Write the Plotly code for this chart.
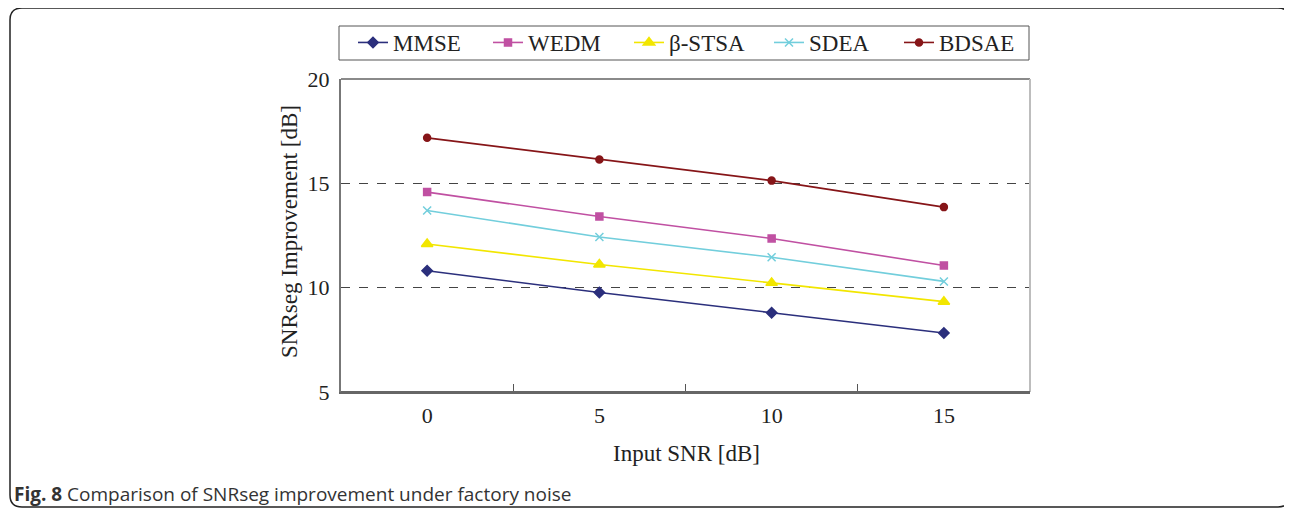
import plotly.graph_objects as go

input_snr = [0, 5, 10, 15]
x_ticklabels = ["0", "5", "10", "15"]
mmse = [10.81, 9.77, 8.80, 7.83]
wedm = [14.58, 13.41, 12.36, 11.06]
beta_stsa = [12.09, 11.11, 10.23, 9.33]
sdea = [13.70, 12.43, 11.46, 10.30]
bdsae = [17.18, 16.14, 15.13, 13.86]
series_names = ["MMSE", "WEDM", "β-STSA", "SDEA", "BDSAE"]

OFF = 8  # page body margin
W, H = 1292 - OFF, 509 - OFF
PL, PR, PT, PB = 341 - OFF, 1030 - OFF, 79 - OFF, 392 - OFF  # plot area in figure pixels


def px_x(x):
    return (x - OFF - PL) / (PR - PL)


def px_y(y):
    return (PB - (y - OFF)) / (PB - PT)


SERIF = "Liberation Serif, Times New Roman, serif"

fig = go.Figure()
styles = [
    (mmse, "#2B2F7C", "diamond", 8),
    (wedm, "#C050A2", "square", 7),
    (beta_stsa, "#F2E600", "triangle-up", 10),
    (sdea, "#72CEDC", "x-thin-open", 8),
    (bdsae, "#861518", "circle", 7),
]
legend_item_x = [353, 488, 629, 769, 899]  # pixel x of each legend entry
legend_ids = ["legend", "legend2", "legend3", "legend4", "legend5"]

for name, (vals, color, sym, size), lid in zip(series_names, styles, legend_ids):
    fig.add_trace(go.Scatter(
        x=input_snr, y=vals, name=name, mode="lines+markers",
        line=dict(color=color, width=1.6),
        marker=dict(symbol=sym, size=size, color=color,
                    line=dict(color=color, width=1.5)),
        legend=lid,
    ))

legend_layout = {}
for lid, lx in zip(legend_ids, legend_item_x):
    legend_layout[lid] = dict(
        orientation="h", x=px_x(lx), y=px_y(21), xanchor="left", yanchor="top",
        borderwidth=0, bgcolor="rgba(0,0,0,0)",
        font=dict(family=SERIF, size=23, color="#222"),
        itemsizing="trace",
    )

fig.update_layout(
    width=W, height=H,
    margin=dict(l=PL, r=W - PR, t=PT, b=H - PB, pad=0),
    paper_bgcolor="white", plot_bgcolor="white",
    font=dict(family=SERIF, size=22, color="#222"),
    showlegend=True,
    xaxis=dict(
        range=[-2.5, 17.5], tickmode="array", tickvals=input_snr, ticktext=x_ticklabels,
        ticks="", showgrid=False, zeroline=False,
        showline=True, linecolor="#666", linewidth=2,
        ticklabelstandoff=3,
        minor=dict(tickmode="array", tickvals=[2.5, 7.5, 12.5], ticks="inside",
                   ticklen=8, tickcolor="#555", tickwidth=1, showgrid=False),
        tickfont=dict(size=22),
    ),
    yaxis=dict(
        range=[5, 20], tickmode="array", tickvals=[5, 10, 15, 20],
        ticks="", showgrid=True, gridcolor="#444", griddash="dash", gridwidth=1,
        zeroline=False, showline=True, linecolor="#777", linewidth=2,
        ticklabelstandoff=5, tickfont=dict(size=22),
    ),
    **legend_layout,
)

# top, right, bottom frame lines of plot area
fig.add_shape(type="line", xref="paper", yref="paper", x0=0, x1=1, y0=1, y1=1,
              line=dict(color="#8a8a8a", width=2), layer="above")
fig.add_shape(type="line", xref="paper", yref="paper", x0=1, x1=1, y0=0, y1=1,
              line=dict(color="#bdbdbd", width=2), layer="above")
fig.add_shape(type="line", xref="paper", yref="paper", x0=0, x1=1, y0=0, y1=0,
              line=dict(color="#666", width=2), layer="above")

# legend box
fig.add_shape(type="rect", xref="paper", yref="paper",
              x0=px_x(339), x1=px_x(1029), y0=px_y(60), y1=px_y(26),
              line=dict(color="#555", width=1), layer="below")

# outer rounded frame
r = 12
L, T, R, B = 10, 8, 1290, 507
path = (
    f"M {px_x(L)},{px_y(B - r)} L {px_x(L)},{px_y(T + r)} "
    f"Q {px_x(L)},{px_y(T)} {px_x(L + r)},{px_y(T)} "
    f"L {px_x(R - r)},{px_y(T)} Q {px_x(R)},{px_y(T)} {px_x(R)},{px_y(T + r)} "
    f"L {px_x(R)},{px_y(B - r)} Q {px_x(R)},{px_y(B)} {px_x(R - r)},{px_y(B)} "
    f"L {px_x(L + r)},{px_y(B)} Q {px_x(L)},{px_y(B)} {px_x(L)},{px_y(B - r)}"
)
fig.add_shape(type="path", xref="paper", yref="paper", path=path,
              line=dict(color="#222", width=1.5), layer="below")

# axis titles
fig.add_annotation(text="Input SNR [dB]", xref="paper", yref="paper",
                   x=px_x(686), y=px_y(453), xanchor="center", yanchor="middle",
                   showarrow=False, font=dict(family=SERIF, size=23, color="#222"))
fig.add_annotation(text="SNRseg Improvement [dB]", xref="paper", yref="paper",
                   x=px_x(289), y=px_y(232), xanchor="center", yanchor="middle",
                   showarrow=False, textangle=-90,
                   font=dict(family=SERIF, size=23, color="#222"))
# caption
fig.add_annotation(text="<b>Fig. 8</b> Comparison of SNRseg improvement under factory noise",
                   xref="paper", yref="paper", x=px_x(12), y=px_y(494),
                   xanchor="left", yanchor="middle", showarrow=False,
                   font=dict(family="Open Sans, Noto Sans, sans-serif", size=19, color="#333"))

fig.write_html("out.html")
